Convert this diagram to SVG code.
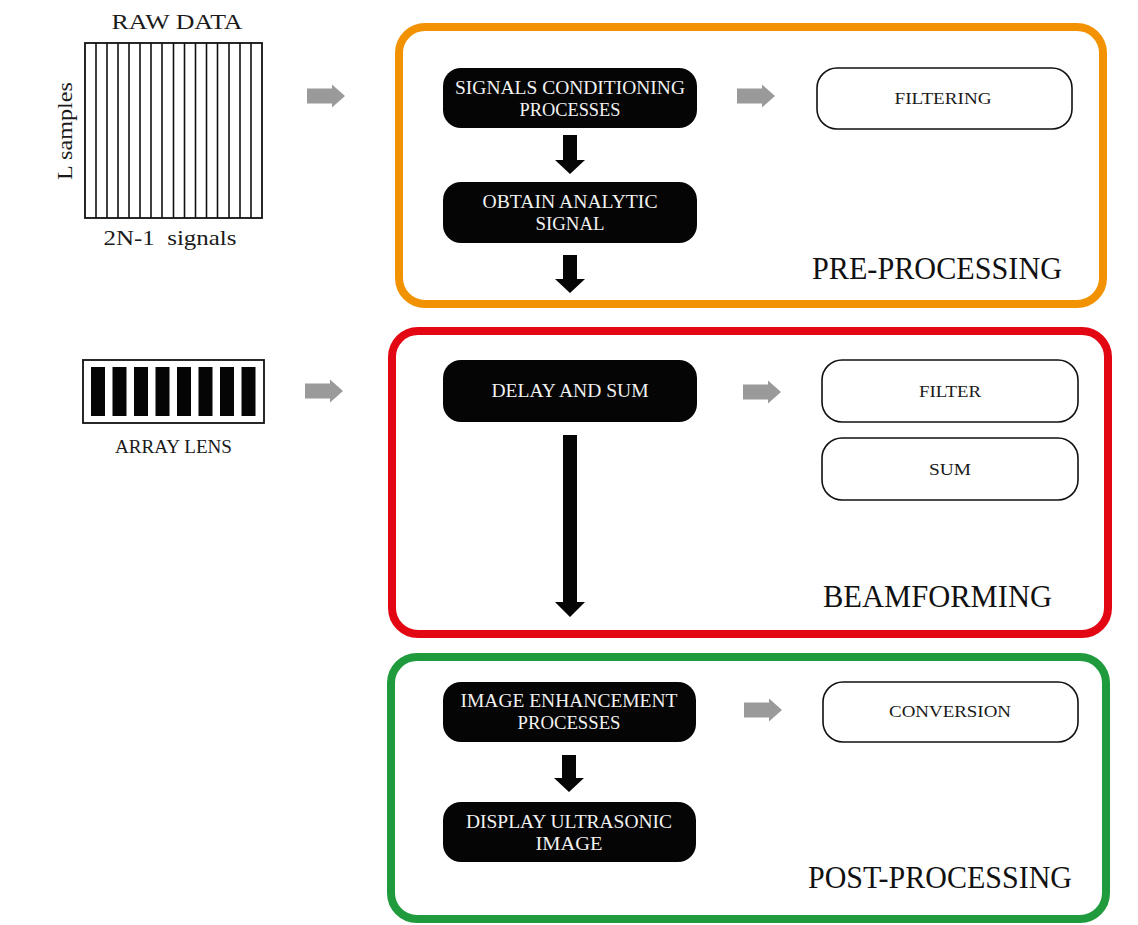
<svg xmlns="http://www.w3.org/2000/svg" width="1138" height="925" viewBox="0 0 1138 925">
  <style>
    .lbl { font-family: "Liberation Serif", "Times New Roman", serif; fill: #1a1a1a; }
    .inv { font-family: "Liberation Serif", "Times New Roman", serif; fill: #f2f2f2; font-size: 18px; text-anchor: middle; }
    .sm { font-family: "Liberation Serif", "Times New Roman", serif; fill: #1a1a1a; font-size: 17px; text-anchor: middle; }
    .stage { font-family: "Liberation Serif", "Times New Roman", serif; fill: #111; font-size: 31px; text-anchor: end; }
    .dark { fill: #050505; }
    .soft { fill: #fff; stroke: #111; stroke-width: 1.6; }
    .grid line { stroke: #111; stroke-width: 1.6; }
    .gray { fill: #9a9a9a; }
    .down { fill: #050505; }
  </style>
  <defs>
    <path id="garrow" d="M0,-7.5 H25 V-11.5 L38,0 L25,11.5 V7.5 H0 Z"/>
  </defs>

  <rect width="1138" height="925" fill="#fff"/>

  <!-- stage frames -->
  <g id="pre-processing">
    <rect x="399" y="27" width="704" height="277" rx="26" fill="none" stroke="#f39200" stroke-width="8"/>
    <text class="stage" x="1062" y="279" textLength="250" lengthAdjust="spacingAndGlyphs">PRE-PROCESSING</text>
  </g>
  <g id="beamforming">
    <rect x="392" y="331" width="716" height="303" rx="26" fill="none" stroke="#e30613" stroke-width="8"/>
    <text class="stage" x="1052" y="607" textLength="229" lengthAdjust="spacingAndGlyphs">BEAMFORMING</text>
  </g>
  <g id="post-processing">
    <rect x="391" y="657" width="715" height="262" rx="26" fill="none" stroke="#1f9a3c" stroke-width="8"/>
    <text class="stage" x="1072" y="888" textLength="264" lengthAdjust="spacingAndGlyphs">POST-PROCESSING</text>
  </g>

  <!-- raw data matrix -->
  <g id="raw-data">
    <text class="lbl" x="177" y="29" font-size="21" text-anchor="middle" textLength="131" lengthAdjust="spacingAndGlyphs">RAW DATA</text>
    <rect x="85" y="43" width="177" height="175" fill="#fff" stroke="#111" stroke-width="1.8"/>
    <g class="grid">
      <line x1="96" y1="43" x2="96" y2="218"/>
      <line x1="107" y1="43" x2="107" y2="218"/>
      <line x1="118" y1="43" x2="118" y2="218"/>
      <line x1="129" y1="43" x2="129" y2="218"/>
      <line x1="140" y1="43" x2="140" y2="218"/>
      <line x1="151" y1="43" x2="151" y2="218"/>
      <line x1="162" y1="43" x2="162" y2="218"/>
      <line x1="173.5" y1="43" x2="173.5" y2="218"/>
      <line x1="184.5" y1="43" x2="184.5" y2="218"/>
      <line x1="195.5" y1="43" x2="195.5" y2="218"/>
      <line x1="206.5" y1="43" x2="206.5" y2="218"/>
      <line x1="217.5" y1="43" x2="217.5" y2="218"/>
      <line x1="229" y1="43" x2="229" y2="218"/>
      <line x1="240" y1="43" x2="240" y2="218"/>
      <line x1="251" y1="43" x2="251" y2="218"/>
    </g>
    <text class="lbl" transform="translate(72,131) rotate(-90)" font-size="21" text-anchor="middle" textLength="98" lengthAdjust="spacingAndGlyphs">L samples</text>
    <text class="lbl" x="170" y="245" font-size="21" text-anchor="middle" xml:space="preserve" textLength="133" lengthAdjust="spacingAndGlyphs">2N-1  signals</text>
  </g>

  <!-- transducer array -->
  <g id="array-lens">
    <rect x="83" y="360" width="181" height="63" fill="#fff" stroke="#111" stroke-width="1.8"/>
    <rect x="91" y="367" width="14" height="49" class="dark"/>
    <rect x="112.5" y="367" width="14" height="49" class="dark"/>
    <rect x="134" y="367" width="14" height="49" class="dark"/>
    <rect x="155.5" y="367" width="14" height="49" class="dark"/>
    <rect x="177" y="367" width="14" height="49" class="dark"/>
    <rect x="198.5" y="367" width="14" height="49" class="dark"/>
    <rect x="220" y="367" width="14" height="49" class="dark"/>
    <rect x="241.5" y="367" width="14" height="49" class="dark"/>
    <text class="lbl" x="173.5" y="453" font-size="19" text-anchor="middle" textLength="117" lengthAdjust="spacingAndGlyphs">ARRAY LENS</text>
  </g>

  <!-- process blocks -->
  <g id="signals-conditioning">
    <rect x="443" y="68" width="254" height="60" rx="18" class="dark"/>
    <text class="inv" x="570" y="94" textLength="230" lengthAdjust="spacingAndGlyphs">SIGNALS CONDITIONING</text>
    <text class="inv" x="570" y="116" textLength="101" lengthAdjust="spacingAndGlyphs">PROCESSES</text>
  </g>
  <g id="analytic-signal">
    <rect x="443" y="182" width="254" height="61" rx="18" class="dark"/>
    <text class="inv" x="570" y="208" textLength="175" lengthAdjust="spacingAndGlyphs">OBTAIN ANALYTIC</text>
    <text class="inv" x="570" y="230" textLength="69" lengthAdjust="spacingAndGlyphs">SIGNAL</text>
  </g>
  <g id="filtering">
    <rect x="817" y="68" width="255" height="61" rx="20" class="soft"/>
    <text class="sm" x="943" y="104" textLength="97" lengthAdjust="spacingAndGlyphs">FILTERING</text>
  </g>
  <g id="delay-and-sum">
    <rect x="443" y="360" width="254" height="62" rx="18" class="dark"/>
    <text class="inv" x="570" y="397" textLength="157" lengthAdjust="spacingAndGlyphs">DELAY AND SUM</text>
  </g>
  <g id="filter">
    <rect x="822" y="360" width="256" height="62" rx="20" class="soft"/>
    <text class="sm" x="950" y="397" textLength="62" lengthAdjust="spacingAndGlyphs">FILTER</text>
  </g>
  <g id="sum">
    <rect x="822" y="438" width="256" height="62" rx="20" class="soft"/>
    <text class="sm" x="950" y="475" textLength="42" lengthAdjust="spacingAndGlyphs">SUM</text>
  </g>
  <g id="image-enhancement">
    <rect x="443" y="682" width="253" height="60" rx="18" class="dark"/>
    <text class="inv" x="569" y="707" textLength="217" lengthAdjust="spacingAndGlyphs">IMAGE ENHANCEMENT</text>
    <text class="inv" x="569" y="729" textLength="103" lengthAdjust="spacingAndGlyphs">PROCESSES</text>
  </g>
  <g id="display-image">
    <rect x="443" y="802" width="253" height="60" rx="18" class="dark"/>
    <text class="inv" x="569" y="828" textLength="206" lengthAdjust="spacingAndGlyphs">DISPLAY ULTRASONIC</text>
    <text class="inv" x="569" y="850" textLength="67" lengthAdjust="spacingAndGlyphs">IMAGE</text>
  </g>
  <g id="conversion">
    <rect x="823" y="682" width="255" height="60" rx="20" class="soft"/>
    <text class="sm" x="950" y="717" textLength="122" lengthAdjust="spacingAndGlyphs">CONVERSION</text>
  </g>

  <!-- connectors -->
  <g id="connectors">
    <use href="#garrow" class="gray" x="307" y="96"/>
    <use href="#garrow" class="gray" x="305" y="391"/>
    <use href="#garrow" class="gray" x="737" y="96"/>
    <use href="#garrow" class="gray" x="743" y="392"/>
    <use href="#garrow" class="gray" x="744" y="710"/>
    <path class="down" d="M563,135 H577 V160 H585 L570,174 L555,160 H563 Z"/>
    <path class="down" d="M563,255 H577 V279 H585 L570,293 L555,279 H563 Z"/>
    <path class="down" d="M563,435 H577 V602 H585 L570,617 L555,602 H563 Z"/>
    <path class="down" d="M562,755 H576 V778 H584 L569,792 L554,778 H562 Z"/>
  </g>
</svg>
